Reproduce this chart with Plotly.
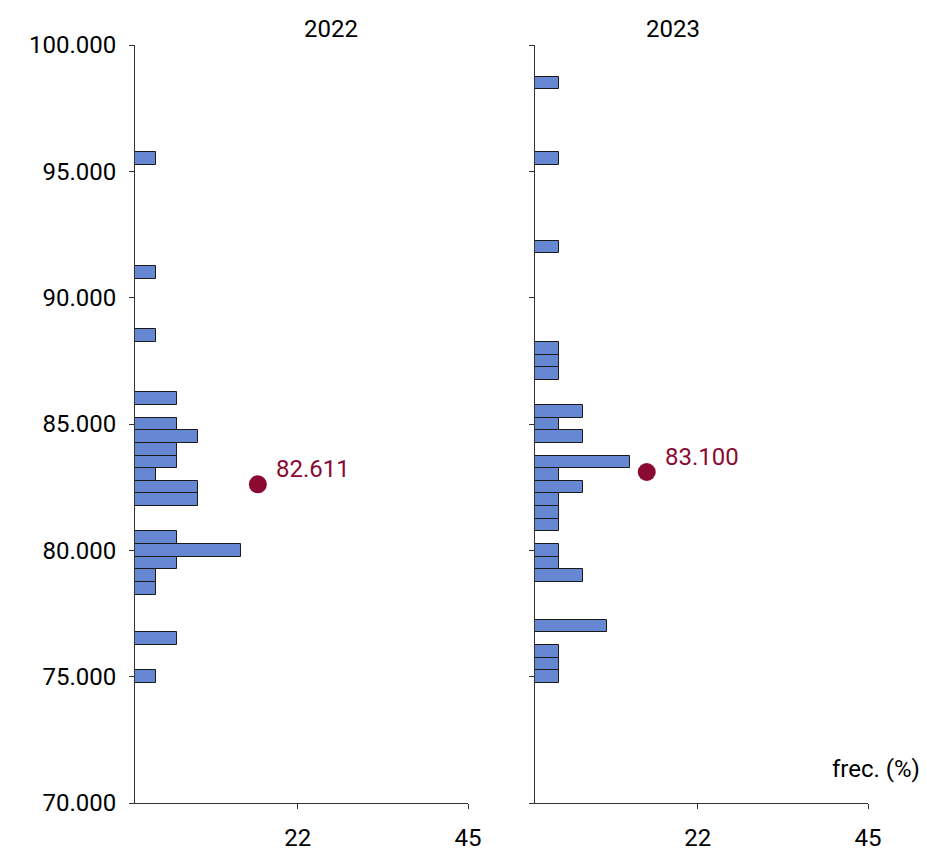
import plotly.graph_objects as go

bins_2022 = [95500, 91000, 88500, 86000, 85000, 84500, 84000, 83500, 83000, 82500, 82000,
             80500, 80000, 79500, 79000, 78500, 76500, 75000]
counts_2022 = [1, 1, 1, 2, 2, 3, 2, 2, 1, 3, 3, 2, 5, 2, 1, 1, 2, 1]
bins_2023 = [98500, 95500, 92000, 88000, 87500, 87000, 85500, 85000, 84500, 83500, 83000,
             82500, 82000, 81500, 81000, 80000, 79500, 79000, 77000, 76000, 75500, 75000]
counts_2023 = [1, 1, 1, 1, 1, 1, 2, 1, 2, 4, 1, 2, 1, 1, 1, 1, 1, 2, 3, 1, 1, 1]
years = ["2022", "2023"]
mean_y = [82611, 83100]
mean_x = [16.6, 15.1]
mean_labels = ["82.611", "83.100"]
y_ticks = [70000, 75000, 80000, 85000, 90000, 95000, 100000]
y_ticktext = ["70.000", "75.000", "80.000", "85.000", "90.000", "95.000", "100.000"]
x_ticks = [22, 45]

W, H = 927, 858
OFF = 8  # page body margin
FONT = "Roboto"
fig = go.Figure()
series = [(bins_2022, counts_2022), (bins_2023, counts_2023)]
xdoms = [[(135 - OFF) / W, (468 - OFF) / W], [(535 - OFF) / W, (868 - OFF) / W]]
ydom = [1 - (803 - OFF) / H, 1 - (45 - OFF) / H]
for i, (b, c) in enumerate(series):
    tot = sum(c)
    pct = [v / tot * 100 for v in c]
    xa = "x" if i == 0 else "x2"
    ya = "y" if i == 0 else "y2"
    fig.add_trace(go.Bar(y=b, x=pct, orientation="h", width=500, xaxis=xa, yaxis=ya,
                         marker=dict(color="#6687d2", line=dict(color="#1a1a1a", width=1)),
                         showlegend=False, hoverinfo="skip"))
    fig.add_trace(go.Scatter(x=[mean_x[i]], y=[mean_y[i]], mode="markers",
                             marker=dict(color="#8a0a32", size=18),
                             xaxis=xa, yaxis=ya, showlegend=False, hoverinfo="skip"))
    fig.add_annotation(text=mean_labels[i], x=mean_x[i], y=mean_y[i], xref=xa, yref=ya,
                       xanchor="left", yanchor="middle", xshift=16, yshift=15,
                       showarrow=False, font=dict(color="#8a0a32", size=24, family=FONT))
    fig.add_annotation(text=years[i], x=(xdoms[i][0] + xdoms[i][1]) / 2, y=1 - (13 - OFF) / H,
                       xref="paper", yref="paper", showarrow=False,
                       font=dict(size=24, family=FONT, color="black"))

axis_common = dict(showline=True, linecolor="#333", linewidth=1, showgrid=False,
                   zeroline=False, ticks="outside", ticklen=5, tickcolor="#333",
                   automargin=False, ticklabelstandoff=8,
                   tickfont=dict(size=24, family=FONT, color="black"))
fig.update_layout(
    width=W, height=H, margin=dict(l=0, r=0, t=0, b=0),
    plot_bgcolor="white", paper_bgcolor="white", bargap=0,
    xaxis=dict(domain=xdoms[0], range=[0, 45], tickvals=x_ticks, anchor="y", **axis_common),
    xaxis2=dict(domain=xdoms[1], range=[0, 45], tickvals=x_ticks, anchor="y2", **axis_common),
    yaxis=dict(domain=ydom, range=[70000, 100000], tickvals=y_ticks, ticktext=y_ticktext,
               anchor="x", **axis_common),
    yaxis2=dict(domain=ydom, range=[70000, 100000], tickvals=y_ticks, showticklabels=False,
                anchor="x2", **axis_common),
)
fig.add_annotation(text="frec. (%)", x=(922 - OFF) / W, y=1 - (785 - OFF) / H, xref="paper", yref="paper",
                   xanchor="right", showarrow=False, font=dict(size=24, family=FONT, color="black"))
fig.write_html("out.html")
